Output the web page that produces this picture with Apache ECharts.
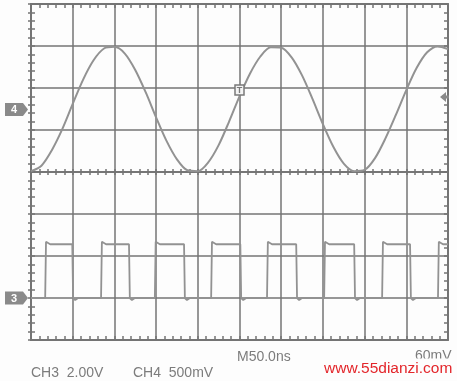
<!DOCTYPE html>
<html>
<head>
<meta charset="utf-8">
<script src="https://cdn.jsdelivr.net/npm/echarts@6/dist/echarts.min.js"></script>
<style>
  html, body { margin: 0; padding: 0; background: #fdfdfd; }
  #main { width: 457px; height: 381px; }
</style>
</head>
<body>
<div id="main"></div>
<script type="text/javascript">
// 示波器截图：CH4 正弦波，CH3 方波（单位：格）
var sineX = [0, 0.25, 0.5, 0.75, 1.0, 1.25, 1.5, 1.75, 2.0, 2.25, 2.5, 2.75, 3.0, 3.25, 3.5, 3.75,
             4.0, 4.25, 4.5, 4.75, 5.0, 5.25, 5.5, 5.75, 6.0, 6.25, 6.5, 6.75, 7.0, 7.25, 7.5, 7.75,
             8.0, 8.25, 8.5, 8.75, 9.0, 9.25, 9.5, 9.75, 10.0];
var sineY = [0.02, 0.15, 0.52, 1.02, 1.62, 2.2, 2.66, 2.94, 2.98, 2.82, 2.43, 1.9, 1.3, 0.74, 0.3, 0.04,
             0.02, 0.23, 0.64, 1.2, 1.8, 2.34, 2.75, 2.97, 2.96, 2.73, 2.3, 1.74, 1.14, 0.6, 0.2, 0.02,
             0.05, 0.33, 0.8, 1.36, 1.95, 2.48, 2.85, 2.99, 2.93];

var sqRise = [0.34, 1.68, 2.97, 4.32, 5.66, 7.03, 8.42, 9.76];
var sqFall = [1.01, 2.37, 3.69, 5.04, 6.38, 7.77, 9.11];
var sqHigh = -1.72;
var sqLow = -3.0;
var sqOver = -1.66;   // 上升沿过冲
var sqUnder = -3.05;  // 下降沿下冲

var xTicks = [0, 1, 2, 3, 4, 5, 6, 7, 8, 9, 10];
var yTicks = [-4, -3, -2, -1, 0, 1, 2, 3, 4];

var sineData = sineX.map(function (x, i) { return [x, sineY[i]]; });

var squareData = [[0, sqLow]];
for (var i = 0; i < sqRise.length; i++) {
    var r = sqRise[i];
    squareData.push([r, sqLow], [r + 0.02, sqOver], [r + 0.12, sqHigh]);
    if (i < sqFall.length) {
        var f = sqFall[i];
        squareData.push([f - 0.02, sqHigh], [f, sqLow], [f + 0.05, sqUnder], [f + 0.12, sqLow]);
    } else {
        squareData.push([10, sqHigh]);
    }
}

var gridColor = '#747474';
var traceColor = '#929292';

function xAx(pos, onZero, inside, len, split) {
    return {
        type: 'value', min: xTicks[0], max: xTicks[xTicks.length - 1], interval: 1, position: pos,
        axisLine: { show: true, onZero: onZero, lineStyle: { color: gridColor, width: onZero ? 1.5 : 2 } },
        axisTick: { show: true, inside: inside, length: len, lineStyle: { color: gridColor, width: 1.5 } },
        minorTick: { show: true, splitNumber: 5, length: len, lineStyle: { color: gridColor, width: 1.5 } },
        axisLabel: { show: false },
        splitLine: { show: split, lineStyle: { color: gridColor, width: 1.5 } }
    };
}
function yAx(pos, onZero, inside, len, split) {
    return {
        type: 'value', min: yTicks[0], max: yTicks[yTicks.length - 1], interval: 1, position: pos,
        axisLine: { show: true, onZero: onZero, lineStyle: { color: gridColor, width: onZero ? 1.5 : 2 } },
        axisTick: { show: true, inside: inside, length: len, lineStyle: { color: gridColor, width: 1.5 } },
        minorTick: { show: true, splitNumber: 5, length: len, lineStyle: { color: gridColor, width: 1.5 } },
        axisLabel: { show: false },
        splitLine: { show: split, lineStyle: { color: gridColor, width: 1.5 } }
    };
}

var myChart = echarts.init(document.getElementById('main'));

var textStyle = { fill: '#7c7c7c', font: '14px "Liberation Sans", Arial, sans-serif' };

var option = {
    animation: false,
    backgroundColor: '#fdfdfd',
    grid: { left: 31, top: 4, width: 417, height: 336, outerBoundsMode: 'none' },
    xAxis: [
        xAx('bottom', false, true, 4, true),
        xAx('top', false, true, 4, false),
        xAx('bottom', true, true, 3, false),
        xAx('bottom', true, false, 3, false)
    ],
    yAxis: [
        yAx('left', false, true, 4, true),
        yAx('right', false, true, 4, false),
        yAx('left', true, true, 3, false),
        yAx('left', true, false, 3, false)
    ],
    series: [
        {
            name: 'CH4', type: 'line', data: sineData, smooth: 0.3, showSymbol: false,
            lineStyle: { color: traceColor, width: 2 }, z: 5
        },
        {
            name: 'CH3', type: 'line', data: squareData, showSymbol: false,
            lineStyle: { color: traceColor, width: 1.8 }, z: 5
        }
    ],
    graphic: [
        // 通道标记 4
        { type: 'polygon', shape: { points: [[5, 103], [23, 103], [28, 109.5], [23, 116], [5, 116]] }, style: { fill: '#8a8a8a' } },
        { type: 'text', x: 14, y: 110, style: { text: '4', fill: '#fff', font: 'bold 11px "Liberation Sans", Arial', align: 'center', verticalAlign: 'middle' } },
        // 通道标记 3
        { type: 'polygon', shape: { points: [[5, 291.5], [23, 291.5], [28, 298], [23, 304.5], [5, 304.5]] }, style: { fill: '#8a8a8a' } },
        { type: 'text', x: 14, y: 298.5, style: { text: '3', fill: '#fff', font: 'bold 11px "Liberation Sans", Arial', align: 'center', verticalAlign: 'middle' } },
        // 触发标记
        { type: 'rect', shape: { x: 235, y: 85, width: 9, height: 10 }, style: { fill: '#f4f4f4', stroke: '#7a7a7a', lineWidth: 1.5 }, z: 10 },
        { type: 'text', x: 239.5, y: 90.5, style: { text: 'T', fill: '#7a7a7a', font: 'bold 9px "Liberation Sans", Arial', align: 'center', verticalAlign: 'middle' }, z: 11 },
        // 触发电平标记
        { type: 'polygon', shape: { points: [[440, 97], [446, 92], [446, 102]] }, style: { fill: '#8a8a8a' }, z: 10 },
        { type: 'rect', shape: { x: 445, y: 95.5, width: 4, height: 3 }, style: { fill: '#8a8a8a' }, z: 10 },
        // 底部文字
        { type: 'text', x: 31, y: 373, style: Object.assign({ text: 'CH3  2.00V', verticalAlign: 'middle' }, textStyle) },
        { type: 'text', x: 133, y: 373, style: Object.assign({ text: 'CH4  500mV', verticalAlign: 'middle' }, textStyle) },
        { type: 'text', x: 237, y: 357, style: Object.assign({ text: 'M50.0ns', verticalAlign: 'middle' }, textStyle) },
        { type: 'text', x: 415, y: 356, style: Object.assign({ text: '60mV', verticalAlign: 'middle' }, textStyle) },
        { type: 'rect', shape: { x: 405, y: 358.5, width: 52, height: 23 }, style: { fill: '#fdfdfd' } },
        { type: 'text', x: 324, y: 369, style: { text: 'www.55dianzi.com', fill: '#e3262b', font: '15.5px "Liberation Sans", Arial, sans-serif', verticalAlign: 'middle' } }
    ]
};

myChart.setOption(option);
</script>
</body>
</html>
